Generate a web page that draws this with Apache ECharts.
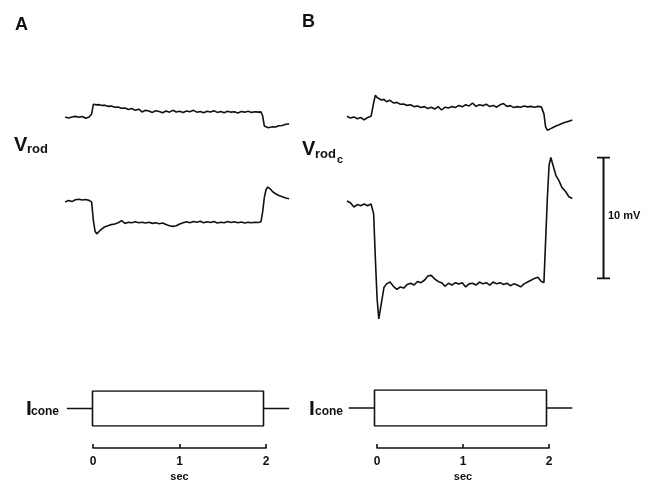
<!DOCTYPE html>
<html>
<head>
<meta charset="utf-8">
<script src="https://cdn.jsdelivr.net/npm/echarts@6/dist/echarts.min.js"></script>
<style>
  html, body { margin: 0; padding: 0; background: #fff; }
  #chart { width: 660px; height: 483px; }
</style>
</head>
<body>
<div id="chart"></div>
<script>
  // sample times (s), shared by the four voltage traces
  var time = [-0.32, -0.28, -0.24, -0.20, -0.16, -0.12, -0.08, -0.04, -0.01, 0.01,
    0.03, 0.05, 0.08, 0.11, 0.14, 0.18, 0.22, 0.26, 0.30, 0.34,
    0.38, 0.42, 0.46, 0.50, 0.54, 0.58, 0.62, 0.66, 0.70, 0.74,
    0.78, 0.82, 0.86, 0.90, 0.94, 0.98, 1.02, 1.06, 1.10, 1.14,
    1.18, 1.22, 1.26, 1.30, 1.34, 1.38, 1.42, 1.46, 1.50, 1.54,
    1.58, 1.62, 1.66, 1.70, 1.74, 1.78, 1.82, 1.86, 1.90, 1.94,
    1.97, 1.99, 2.01, 2.03, 2.05, 2.08, 2.11, 2.14, 2.18, 2.22,
    2.26, 2.30];

  // mV, relative to the resting level of each trace
  var rodATop = [0.0, -0.08, 0.0, 0.05, -0.02, 0.04, -0.1, 0.0, 0.25, 1.05,
    1.15, 1.0, 1.02, 0.95, 0.98, 0.88, 0.9, 0.8, 0.82, 0.72,
    0.75, 0.62, 0.7, 0.55, 0.65, 0.42, 0.55, 0.5, 0.38, 0.52,
    0.45, 0.35, 0.5, 0.4, 0.55, 0.42, 0.48, 0.38, 0.5, 0.44,
    0.55, 0.4, 0.46, 0.35, 0.48, 0.42, 0.52, 0.38, 0.45, 0.36,
    0.48, 0.4, 0.44, 0.34, 0.45, 0.4, 0.47, 0.38, 0.44, 0.4,
    0.42, 0.1, -0.75, -0.9, -0.88, -0.85, -0.8, -0.82, -0.72, -0.7,
    -0.6, -0.58];
  var rodABottom = [-0.08, 0.05, -0.05, 0.1, 0.15, 0.08, 0.12, 0.05, -0.1, -1.6,
    -2.5, -2.72, -2.5, -2.3, -2.15, -2.05, -1.95, -1.9, -1.8, -1.62,
    -1.85, -1.75, -1.8, -1.72, -1.8, -1.75, -1.82, -1.76, -1.85, -1.8,
    -1.88, -1.82, -1.95, -2.05, -2.1, -2.05, -1.9, -1.8, -1.72, -1.8,
    -1.7, -1.76, -1.68, -1.8, -1.72, -1.78, -1.7, -1.82, -1.75, -1.8,
    -1.7, -1.78, -1.72, -1.8, -1.74, -1.82, -1.76, -1.8, -1.75, -1.78,
    -1.72, -0.9, 0.3, 0.95, 1.15, 1.0, 0.75, 0.6, 0.45, 0.35,
    0.25, 0.18];
  var rodBTop = [0.1, -0.05, 0.05, -0.1, 0.0, -0.2, 0.0, 0.1, 1.2, 1.85,
    1.65, 1.75, 1.45, 1.5, 1.3, 1.42, 1.2, 1.25, 1.1, 1.12,
    1.0, 1.05, 0.9, 0.95, 0.82, 0.9, 0.75, 0.85, 0.7, 0.9,
    0.62, 0.85, 0.78, 0.9, 0.82, 1.0, 0.88, 1.05, 0.95, 1.2,
    0.92, 1.05, 0.98, 1.1, 0.9, 1.0, 0.85, 1.05, 1.15, 0.92,
    0.98, 0.82, 0.9, 0.85, 0.95, 0.88, 0.92, 0.85, 0.92, 0.88,
    0.3, -0.8, -1.05, -1.0, -0.92, -0.8, -0.7, -0.62, -0.5, -0.4,
    -0.3, -0.2];
  var rodBBottom = [0.25, 0.1, -0.25, -0.05, -0.15, 0.0, -0.15, 0.0, -0.8, -4.5,
    -7.8, -9.5, -8.2, -6.9, -6.6, -6.45, -6.8, -7.05, -6.85, -6.95,
    -6.65, -6.55, -6.7, -6.4, -6.5, -6.3, -5.95, -5.9, -6.2, -6.4,
    -6.5, -6.8, -6.55, -6.7, -6.5, -6.62, -6.5, -6.85, -6.6, -6.55,
    -6.7, -6.45, -6.6, -6.5, -6.7, -6.45, -6.6, -6.5, -6.65, -6.55,
    -6.75, -6.6, -6.7, -6.85, -6.6, -6.45, -6.3, -6.15, -6.05, -6.4,
    -6.5, -3.0, 0.5, 3.2, 3.85, 3.1, 2.35, 2.0, 1.35, 1.05,
    0.6, 0.45];

  // I_cone stimulus outline (box from 0 to 2 s)
  var stimBoxT = [-0.3, 0, 0, 2, 2, 0, 0];
  var stimBoxLevel = [0, 0, 1, 1, -1, -1, 0];
  var stimTailT = [2, 2.3];
  var stimTailLevel = [0, 0];

  // calibration bar (mV)
  var scaleBarMv = [0, 10];

  var FONT = '"Liberation Sans", Arial, sans-serif';
  var INK = '#111';

  function pairs(ts, vs) {
    return ts.map(function (t, i) { return [t, vs[i]]; });
  }

  var chart = echarts.init(document.getElementById('chart'));

  // grid layout: 0 A top, 1 A bottom, 2 B top, 3 B bottom, 4 A stim, 5 B stim,
  // 6 A time bar, 7 B time bar, 8 calibration bar
  var grids = [
    { left: 58.3, width: 239.4, top: 92.8, height: 48.4 },
    { left: 58.3, width: 239.4, top: 164.7, height: 84.7 },
    { left: 340.1, width: 240.8, top: 81.2, height: 60.5 },
    { left: 340.1, width: 240.8, top: 143.5, height: 193.6 },
    { left: 58.3, width: 239.4, top: 391, height: 35 },
    { left: 340.1, width: 240.8, top: 390, height: 36 },
    { left: 93, width: 173, top: 441, height: 10 },
    { left: 377, width: 172, top: 441, height: 10 },
    { left: 597, width: 13, top: 157.5, height: 121 }
  ];
  var yRanges = [[-2, 2], [-4, 3], [-2, 3], [-11, 5], [-1, 1], [-1, 1], [0, 1], [0, 1], [0, 10]];

  var xAxes = grids.map(function (g, i) {
    if (i === 6 || i === 7) {
      return {
        gridIndex: i, type: 'value', min: 0, max: 2, interval: 1,
        axisLine: { lineStyle: { color: INK, width: 1.6 } },
        axisTick: { inside: true, length: 4, lineStyle: { color: INK, width: 1.6 } },
        axisLabel: { color: INK, fontWeight: 'bold', fontSize: 12, fontFamily: FONT, margin: 8 },
        splitLine: { show: false },
        name: 'sec', nameLocation: 'middle', nameGap: 23,
        nameTextStyle: { color: INK, fontWeight: 'bold', fontSize: 11, fontFamily: FONT }
      };
    }
    if (i === 8) {
      return { gridIndex: i, type: 'value', min: -1, max: 1, show: false };
    }
    return { gridIndex: i, type: 'value', min: -0.4, max: 2.4, show: false };
  });
  var yAxes = yRanges.map(function (r, i) {
    return { gridIndex: i, type: 'value', min: r[0], max: r[1], show: false };
  });

  function line(idx, data, w) {
    return {
      type: 'line', xAxisIndex: idx, yAxisIndex: idx, data: data,
      showSymbol: false, symbol: 'none', silent: true,
      lineStyle: { color: INK, width: w || 1.6 }
    };
  }

  var series = [
    line(0, pairs(time, rodATop)),
    line(1, pairs(time, rodABottom)),
    line(2, pairs(time, rodBTop)),
    line(3, pairs(time, rodBBottom)),
    line(4, pairs(stimBoxT, stimBoxLevel), 1.6),
    line(4, pairs(stimTailT, stimTailLevel), 1.6),
    line(5, pairs(stimBoxT, stimBoxLevel), 1.6),
    line(5, pairs(stimTailT, stimTailLevel), 1.6),
    line(8, [[0, scaleBarMv[0]], [0, scaleBarMv[1]]], 2),
    line(8, [[-1, scaleBarMv[1]], [1, scaleBarMv[1]]], 2),
    line(8, [[-1, scaleBarMv[0]], [1, scaleBarMv[0]]], 2)
  ];

  function txt(x, y, s, size) {
    return {
      type: 'text', x: x, y: y, silent: true,
      style: { text: s, fill: INK, font: 'bold ' + size + 'px ' + FONT, verticalAlign: 'middle', align: 'left' }
    };
  }

  chart.setOption({
    animation: false,
    backgroundColor: '#fff',
    grid: grids,
    xAxis: xAxes,
    yAxis: yAxes,
    series: series,
    graphic: [
      txt(15, 25, 'A', 18),
      txt(302, 22, 'B', 18),
      txt(14, 145, 'V', 20),
      txt(27, 149, 'rod', 13),
      txt(302, 149, 'V', 20),
      txt(315, 154, 'rod', 13),
      txt(337, 160, 'c', 11),
      txt(26, 409, 'I', 21),
      txt(31, 412, 'cone', 12),
      txt(309, 409, 'I', 21),
      txt(315, 412, 'cone', 12),
      txt(608, 216, '10 mV', 11)
    ]
  });
</script>
</body>
</html>
